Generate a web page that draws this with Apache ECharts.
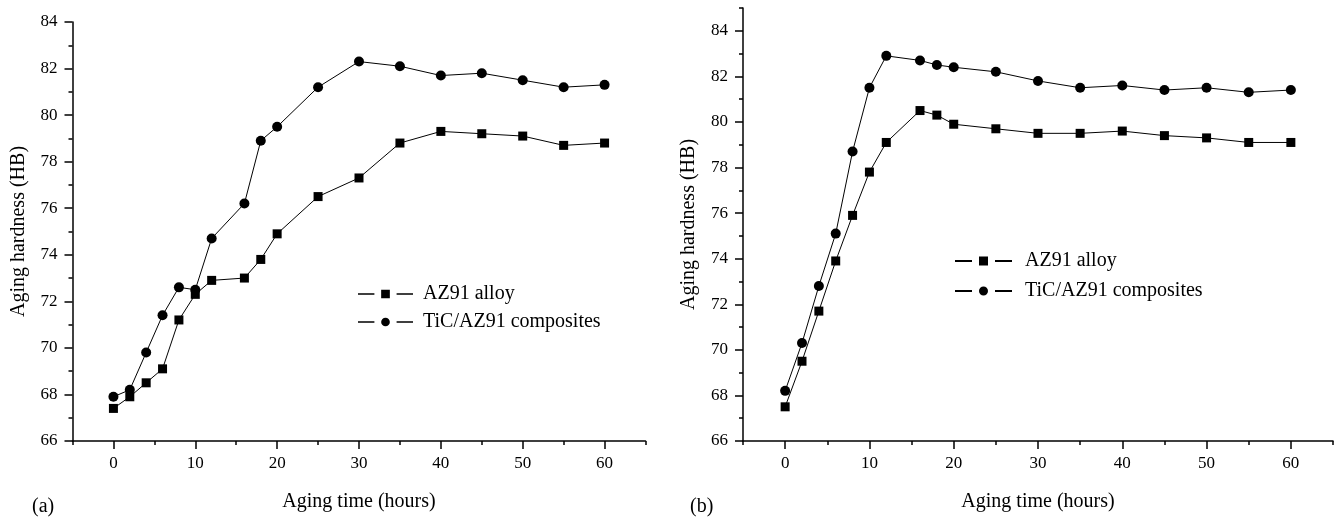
<!DOCTYPE html>
<html>
<head>
<meta charset="utf-8">
<script src="https://cdn.jsdelivr.net/npm/echarts@6/dist/echarts.min.js"></script>
<style>
  html, body { margin: 0; padding: 0; background: #fff; }
  #main { width: 1335px; height: 517px; }
</style>
</head>
<body>
<div id="main"></div>
<script>
// aging times (hours), same for both panels
var hoursA = [0, 2, 4, 6, 8, 10, 12, 16, 18, 20, 25, 30, 35, 40, 45, 50, 55, 60];
var hoursB = [0, 2, 4, 6, 8, 10, 12, 16, 18, 20, 25, 30, 35, 40, 45, 50, 55, 60];

// panel (a)
var alloyA = [67.4, 67.9, 68.5, 69.1, 71.2, 72.3, 72.9, 73.0, 73.8, 74.9, 76.5, 77.3, 78.8, 79.3, 79.2, 79.1, 78.7, 78.8];
var compA  = [67.9, 68.2, 69.8, 71.4, 72.6, 72.5, 74.7, 76.2, 78.9, 79.5, 81.2, 82.3, 82.1, 81.7, 81.8, 81.5, 81.2, 81.3];

// panel (b)
var alloyB = [67.5, 69.5, 71.7, 73.9, 75.9, 77.8, 79.1, 80.5, 80.3, 79.9, 79.7, 79.5, 79.5, 79.6, 79.4, 79.3, 79.1, 79.1];
var compB  = [68.2, 70.3, 72.8, 75.1, 78.7, 81.5, 82.9, 82.7, 82.5, 82.4, 82.2, 81.8, 81.5, 81.6, 81.4, 81.5, 81.3, 81.4];

// ticks
var xMajor = [0, 10, 20, 30, 40, 50, 60];
var xMinor = [-5, 5, 15, 25, 35, 45, 55, 65];
var yMajor = [66, 68, 70, 72, 74, 76, 78, 80, 82, 84];
var yMinorA = [67, 69, 71, 73, 75, 77, 79, 81, 83];
var yMinorB = [67, 69, 71, 73, 75, 77, 79, 81, 83, 85];

var names = ['AZ91 alloy', 'TiC/AZ91 composites'];
var font = 'Liberation Serif';

// legend icons: short line, gap, marker, gap, short line
var iconSquare = 'path://M0,3.6 H17 V5.4 H0 Z M24,0 H33 V9 H24 Z M40,3.6 H57 V5.4 H40 Z';
var iconCircle = 'path://M0,3.6 H17 V5.4 H0 Z M24,4.5 A4.5,4.5 0 1 1 33,4.5 A4.5,4.5 0 1 1 24,4.5 Z M40,3.6 H57 V5.4 H40 Z';

function pairs(xs, ys) {
  return xs.map(function (x, i) { return [x, ys[i]]; });
}

function majorX(g) {
  return {
    gridIndex: g, type: 'value', position: 'bottom', min: -5, max: 65, interval: 10,
    name: 'Aging time (hours)', nameLocation: 'middle', nameGap: 51,
    nameTextStyle: { fontFamily: font, fontSize: 20, color: '#000' },
    axisLine: { onZero: false, lineStyle: { color: '#000', width: 1.5 } },
    axisTick: { customValues: xMajor, length: 8, lineStyle: { color: '#000', width: 1.5 } },
    axisLabel: { customValues: xMajor, fontFamily: font, fontSize: 17, color: '#000', margin: 14 },
    splitLine: { show: false }
  };
}
function minorX(g) {
  return {
    gridIndex: g, type: 'value', position: 'bottom', min: -5, max: 65,
    axisLine: { show: false, onZero: false },
    axisTick: { customValues: xMinor, length: 4, lineStyle: { color: '#000', width: 1.5 } },
    axisLabel: { show: false },
    splitLine: { show: false }
  };
}
function majorY(g, max) {
  return {
    gridIndex: g, type: 'value', position: 'left', min: 66, max: max, interval: 2,
    name: 'Aging hardness (HB)', nameLocation: 'middle', nameGap: 44, nameRotate: 90,
    nameTextStyle: { fontFamily: font, fontSize: 20, color: '#000' },
    axisLine: { onZero: false, lineStyle: { color: '#000', width: 1.5 } },
    axisTick: { customValues: yMajor, length: 8, lineStyle: { color: '#000', width: 1.5 } },
    axisLabel: { customValues: yMajor, fontFamily: font, fontSize: 17, color: '#000', margin: 15 },
    splitLine: { show: false }
  };
}
function minorY(g, max, vals) {
  return {
    gridIndex: g, type: 'value', position: 'left', min: 66, max: max,
    axisLine: { show: false, onZero: false },
    axisTick: { customValues: vals, length: 4, lineStyle: { color: '#000', width: 1.5 } },
    axisLabel: { show: false },
    splitLine: { show: false }
  };
}
function line(name, xi, yi, data, symbol, size) {
  return {
    name: name, type: 'line', xAxisIndex: xi, yAxisIndex: yi,
    data: data, symbol: symbol, symbolSize: size,
    lineStyle: { color: '#000', width: 1 },
    itemStyle: { color: '#000' },
    animation: false
  };
}
function legendData() {
  return [
    { name: names[0], icon: iconSquare },
    { name: names[1], icon: iconCircle }
  ];
}

var chart = echarts.init(document.getElementById('main'));
chart.setOption({
  backgroundColor: '#fff',
  animation: false,
  grid: [
    { left: 72.5, top: 22, width: 573, height: 425 },
    { left: 743, top: 8, width: 590, height: 437 }
  ],
  xAxis: [majorX(0), minorX(0), majorX(1), minorX(1)],
  yAxis: [majorY(0, 84), minorY(0, 84, yMinorA), majorY(1, 85), minorY(1, 85, yMinorB)],
  legend: [
    {
      data: legendData(), orient: 'vertical', left: 353, top: 279,
      itemWidth: 55, itemHeight: 9, itemGap: 8,
      textStyle: { fontFamily: font, fontSize: 20, color: '#000', padding: [0, 0, 0, 5] }
    },
    {
      data: legendData(), orient: 'vertical', left: 950, top: 246,
      itemWidth: 57, itemHeight: 9, itemGap: 10,
      textStyle: { fontFamily: font, fontSize: 20, color: '#000', padding: [0, 0, 0, 8] }
    }
  ],
  graphic: [
    { type: 'text', left: 32, top: 497, style: { text: '(a)', fontFamily: font, fontSize: 20, fill: '#000' } },
    { type: 'text', left: 690, top: 497, style: { text: '(b)', fontFamily: font, fontSize: 20, fill: '#000' } }
  ],
  series: [
    line(names[0], 0, 0, pairs(hoursA, alloyA), 'rect', 9),
    line(names[1], 0, 0, pairs(hoursA, compA), 'circle', 10),
    line(names[0], 2, 2, pairs(hoursB, alloyB), 'rect', 9),
    line(names[1], 2, 2, pairs(hoursB, compB), 'circle', 10)
  ]
});
</script>
</body>
</html>
